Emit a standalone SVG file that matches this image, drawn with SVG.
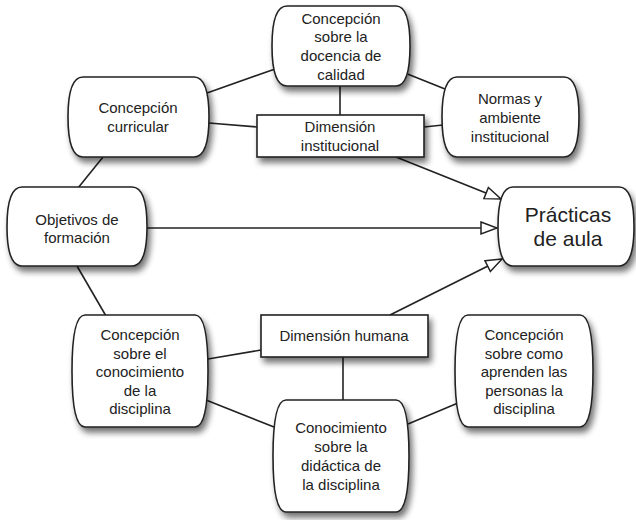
<svg xmlns="http://www.w3.org/2000/svg" width="636" height="520" viewBox="0 0 636 520">
<defs>
<filter id="sh" x="-20%" y="-20%" width="150%" height="150%">
<feGaussianBlur in="SourceAlpha" stdDeviation="3"/>
<feOffset dx="3" dy="5" result="b"/>
<feComponentTransfer><feFuncA type="linear" slope="0.55"/></feComponentTransfer>
<feMerge><feMergeNode/><feMergeNode in="SourceGraphic"/></feMerge>
</filter>
<marker id="open" markerUnits="userSpaceOnUse" markerWidth="20" markerHeight="16" viewBox="0 0 20 16" refX="18" refY="8" orient="auto">
<path d="M2,2 L18,8 L2,14 Z" fill="#fff" stroke="#222" stroke-width="1.5"/>
</marker>
</defs>
<style>
.n{fill:#fff;stroke:#222;stroke-width:1.6;filter:url(#sh)}
.c{stroke:#222;stroke-width:1.6;fill:none}
text{font-family:"Liberation Sans",Arial,sans-serif;font-size:15px;fill:#222;text-anchor:middle}
.big{font-size:21px}
</style>
<g id="connectors">
<line class="c" x1="207" y1="93" x2="275" y2="69"/>
<line class="c" x1="209" y1="123" x2="257" y2="127"/>
<line class="c" x1="103" y1="157" x2="78" y2="188"/>
<line class="c" x1="340" y1="86" x2="340" y2="115"/>
<line class="c" x1="405" y1="73" x2="445" y2="89"/>
<line class="c" x1="424" y1="127" x2="443" y2="125"/>
<line class="c" x1="396" y1="157" x2="501" y2="199" marker-end="url(#open)"/>
<line class="c" x1="147" y1="228" x2="497" y2="228" marker-end="url(#open)"/>
<line class="c" x1="390" y1="315" x2="502" y2="259" marker-end="url(#open)"/>
<line class="c" x1="77" y1="266" x2="106" y2="316"/>
<line class="c" x1="208" y1="359" x2="261" y2="350"/>
<line class="c" x1="206" y1="400" x2="274" y2="427"/>
<line class="c" x1="343" y1="357" x2="343" y2="400"/>
<line class="c" x1="408" y1="424" x2="458" y2="403"/>
</g>
<g id="docencia">
<path class="n" d="M287,6 H396 C406,6 410,20 410,46 C410,72 406,86 396,86 H287 C277,86 272,72 272,46 C272,20 277,6 287,6 Z"/>
<text x="341" y="23.5">Concepción</text>
<text x="341" y="42">sobre la</text>
<text x="341" y="61">docencia de</text>
<text x="341" y="79.5">calidad</text>
</g>
<g id="curricular">
<path class="n" d="M83,77 H194 C204,77 209,91 209,117 C209,143 204,157 194,157 H83 C73,157 68,143 68,117 C68,91 73,77 83,77 Z"/>
<text x="138" y="112.5">Concepción</text>
<text x="138" y="131.5">curricular</text>
</g>
<g id="dim-institucional">
<rect class="n" x="257" y="115" width="167" height="42"/>
<text x="340" y="131.5">Dimensión</text>
<text x="340" y="150.5">institucional</text>
</g>
<g id="normas">
<path class="n" d="M457,77 H564 C574,77 579,91 579,117 C579,143 574,157 564,157 H457 C447,157 442,143 442,117 C442,91 447,77 457,77 Z"/>
<text x="510" y="104">Normas y</text>
<text x="510" y="123">ambiente</text>
<text x="510" y="142">institucional</text>
</g>
<g id="objetivos">
<path class="n" d="M22,187 H132 C142,187 147,201 147,226.5 C147,252 142,266 132,266 H22 C12,266 7,252 7,226.5 C7,201 12,187 22,187 Z"/>
<text x="77" y="225">Objetivos de</text>
<text x="77" y="243">formación</text>
</g>
<g id="practicas">
<path class="n" d="M513,187 H619 C629,187 634,201 634,226.5 C634,252 629,266 619,266 H513 C503,266 498,252 498,226.5 C498,201 503,187 513,187 Z"/>
<text class="big" x="568" y="222">Prácticas</text>
<text class="big" x="568" y="246">de aula</text>
</g>
<g id="disciplina">
<path class="n" d="M85,315 H195 C204,315 208,335 208,371 C208,407 204,427 195,427 H85 C76,427 72,407 72,371 C72,335 76,315 85,315 Z"/>
<text x="140" y="340">Concepción</text>
<text x="140" y="358.5">sobre el</text>
<text x="140" y="377">conocimiento</text>
<text x="140" y="395.5">de la</text>
<text x="140" y="414">disciplina</text>
</g>
<g id="dim-humana">
<rect class="n" x="261" y="315" width="167" height="42"/>
<text x="344" y="341">Dimensión humana</text>
</g>
<g id="aprenden">
<path class="n" d="M468,315 H580 C589,315 593,335 593,371 C593,407 589,427 580,427 H468 C459,427 455,407 455,371 C455,335 459,315 468,315 Z"/>
<text x="524" y="340">Concepción</text>
<text x="524" y="358.5">sobre como</text>
<text x="524" y="377">aprenden las</text>
<text x="524" y="395.5">personas la</text>
<text x="524" y="414">disciplina</text>
</g>
<g id="didactica">
<path class="n" d="M286,400 H396 C405,400 409,420 409,456 C409,492 405,512 396,512 H286 C277,512 273,492 273,456 C273,420 277,400 286,400 Z"/>
<text x="341" y="433">Conocimiento</text>
<text x="341" y="452">sobre la</text>
<text x="341" y="471">didáctica de</text>
<text x="341" y="490">la disciplina</text>
</g>
</svg>
